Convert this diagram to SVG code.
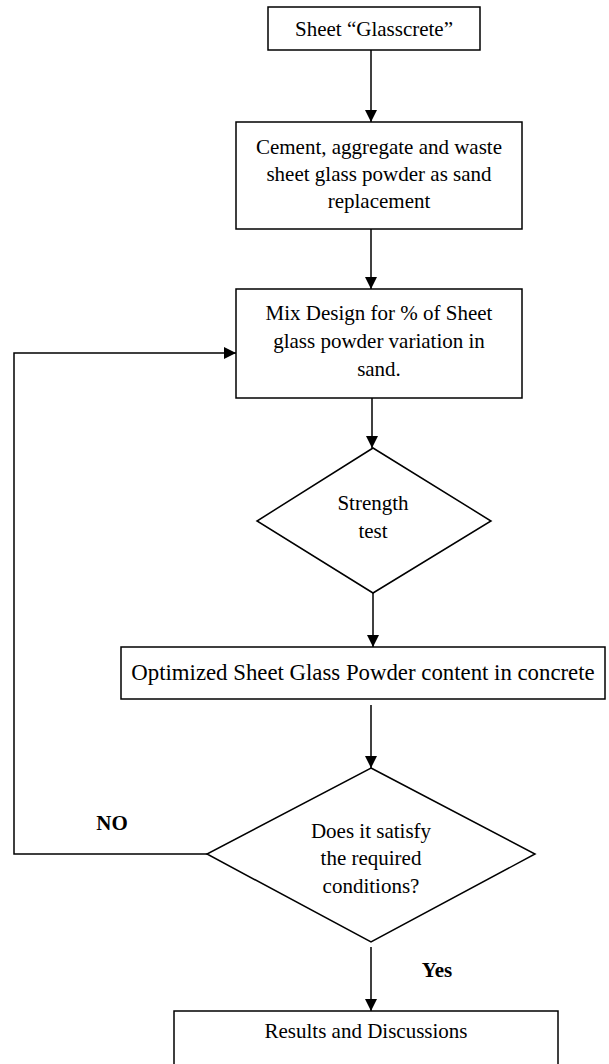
<svg xmlns="http://www.w3.org/2000/svg" width="609" height="1064" viewBox="0 0 609 1064">
<defs>
<marker id="ah" viewBox="0 0 12 12" refX="12" refY="6" markerWidth="12" markerHeight="12" markerUnits="userSpaceOnUse" orient="auto">
<path d="M0,0 L12,6 L0,12 Z" fill="#000"/>
</marker>
<style>
.box{fill:#fff;stroke:#000;stroke-width:1.5}
.t{font-family:"Liberation Serif","Times New Roman",serif;font-size:21px;fill:#000;text-anchor:middle}
.b{font-weight:bold}
.c{fill:none;stroke:#000;stroke-width:1.5}
</style>
</defs>
<rect width="609" height="1064" fill="#fff"/>
<g id="connectors">
<line class="c" x1="371" y1="50" x2="371" y2="122" marker-end="url(#ah)"/>
<line class="c" x1="371" y1="229" x2="371" y2="289" marker-end="url(#ah)"/>
<line class="c" x1="372" y1="398" x2="372" y2="448" marker-end="url(#ah)"/>
<line class="c" x1="373" y1="593" x2="373" y2="647" marker-end="url(#ah)"/>
<line class="c" x1="371" y1="705" x2="371" y2="768" marker-end="url(#ah)"/>
<polyline class="c" points="207,854 14,854 14,353 236,353" marker-end="url(#ah)"/>
<line class="c" x1="371" y1="947" x2="371" y2="1011" marker-end="url(#ah)"/>
<text class="t b" x="112" y="830">NO</text>
<text class="t b" x="437" y="977">Yes</text>
</g>
<g id="n1">
<rect class="box" x="268" y="7" width="212" height="43"/>
<text class="t" x="374" y="36">Sheet “Glasscrete”</text>
</g>
<g id="n2">
<rect class="box" x="236" y="122" width="286" height="107"/>
<text class="t" x="379" y="154">Cement, aggregate and waste</text>
<text class="t" x="379" y="181">sheet glass powder as sand</text>
<text class="t" x="379" y="208">replacement</text>
</g>
<g id="n3">
<rect class="box" x="236" y="289" width="286" height="109"/>
<text class="t" x="379" y="320">Mix Design for % of Sheet</text>
<text class="t" x="379" y="348">glass powder variation in</text>
<text class="t" x="379" y="376">sand.</text>
</g>
<g id="n4">
<polygon class="box" points="373,448 491,521 373,593 257,521"/>
<text class="t" x="373" y="510">Strength</text>
<text class="t" x="373" y="538">test</text>
</g>
<g id="n5">
<rect class="box" x="121" y="647" width="484" height="52"/>
<text class="t" x="363" y="680" style="font-size:22.8px">Optimized Sheet Glass Powder content in concrete</text>
</g>
<g id="n6">
<polygon class="box" points="371,768 535,854 371,942 207,854"/>
<text class="t" x="371" y="838">Does it satisfy</text>
<text class="t" x="371" y="865">the required</text>
<text class="t" x="371" y="893">conditions?</text>
</g>
<g id="n7">
<rect class="box" x="174" y="1011" width="384" height="60"/>
<text class="t" x="366" y="1038">Results and Discussions</text>
</g>
</svg>
